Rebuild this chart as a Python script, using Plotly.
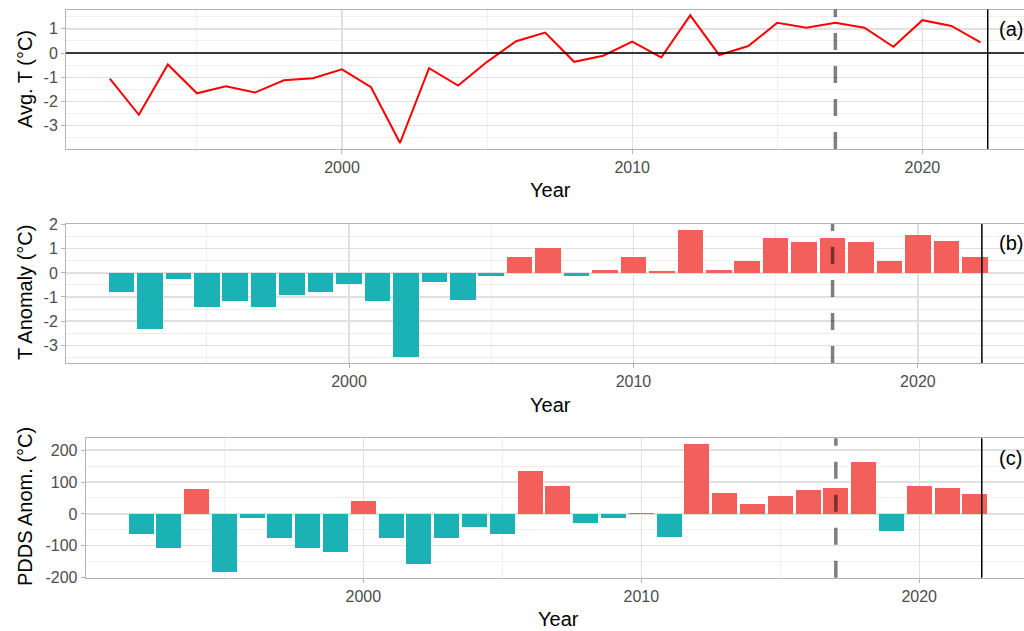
import plotly.graph_objects as go

# ---------------- data ----------------
years = list(range(1992, 2023))
avg_t = [-1.05, -2.55, -0.47, -1.66, -1.37, -1.63, -1.12, -1.04, -0.67, -1.41,
         -3.71, -0.62, -1.34, -0.36, 0.49, 0.85, -0.36, -0.11, 0.47, -0.18,
         1.56, -0.08, 0.29, 1.25, 1.05, 1.25, 1.05, 0.26, 1.36, 1.12, 0.44]
t_anom = [-0.79, -2.33, -0.25, -1.42, -1.16, -1.42, -0.93, -0.81, -0.44, -1.18,
          -3.49, -0.37, -1.11, -0.14, 0.66, 1.03, -0.14, 0.12, 0.66, 0.07,
          1.77, 0.12, 0.48, 1.45, 1.27, 1.45, 1.27, 0.48, 1.59, 1.34, 0.66]
pdds_anom = [-64, -106, 79, -181, -13, -74, -106, -120, 39, -74,
             -158, -77, -41, -64, 136, 89, -27, -14, 2, -73,
             219, 67, 32, 56, 75, 80, 163, -55, 89, 80, 61]

x_ticks = [2000, 2010, 2020]
ya_ticks = [-3, -2, -1, 0, 1]
yb_ticks = [-3, -2, -1, 0, 1, 2]
yc_ticks = [-200, -100, 0, 100, 200]
dashed_year = 2017
solid_year = 2022.25
panel_labels = ["(a)", "(b)", "(c)"]
y_titles = ["Avg. T (°C)", "T Anomaly (°C)", "PDDS Anom. (°C)"]
x_title = "Year"

RED = "#F3605B"
TEAL = "#1BB2B6"

W, H = 1024, 631


def px_x(p):
    return p / W


def px_y(p):
    return 1 - p / H


def sign_colors(vals):
    return [RED if v > 0 else TEAL for v in vals]


def minor_between(ticks, lo, hi):
    step = ticks[1] - ticks[0]
    vals = [t - step / 2 for t in ticks] + [ticks[-1] + step / 2]
    return [v for v in vals if lo <= v <= hi]


fig = go.Figure()

fig.add_trace(go.Scatter(x=years, y=avg_t, mode="lines",
                         line=dict(color="#FF0000", width=2),
                         xaxis="x", yaxis="y", showlegend=False, hoverinfo="skip"))
fig.add_trace(go.Bar(x=years, y=t_anom, width=0.9,
                     marker=dict(color=sign_colors(t_anom), line=dict(width=0)),
                     xaxis="x2", yaxis="y2", showlegend=False, hoverinfo="skip"))
fig.add_trace(go.Bar(x=years, y=pdds_anom, width=0.9,
                     marker=dict(color=sign_colors(pdds_anom), line=dict(width=0)),
                     xaxis="x3", yaxis="y3", showlegend=False, hoverinfo="skip"))

tickfont = dict(family="Liberation Sans, Arial, sans-serif", size=16, color="#4D4D4D")
titlefont = dict(family="Liberation Sans, Arial, sans-serif", size=20, color="#000000")

MAJOR_GRID = "#E0E0E0"
MINOR_GRID = "#EFEFEF"


def xaxis_cfg(dom, rng, anchor):
    return dict(domain=dom, range=rng, anchor=anchor, automargin=False,
                tickmode="array", tickvals=x_ticks, ticktext=[str(t) for t in x_ticks],
                tickfont=tickfont, ticks="outside", ticklen=4, tickcolor="#B3B3B3",
                showgrid=True, gridcolor=MAJOR_GRID, gridwidth=1.3,
                minor=dict(tickmode="array", tickvals=minor_between(x_ticks, rng[0], rng[1]),
                           showgrid=True, gridcolor=MINOR_GRID, gridwidth=1, ticks=""),
                showline=True, linecolor="#B3B3B3", linewidth=1, mirror=True,
                zeroline=False, fixedrange=True)


def yaxis_cfg(dom, rng, anchor, ticks):
    return dict(domain=dom, range=rng, anchor=anchor, automargin=False,
                tickmode="array", tickvals=ticks, ticktext=[str(t) for t in ticks],
                tickfont=tickfont, ticks="outside", ticklen=4, tickcolor="#B3B3B3",
                showgrid=True, gridcolor=MAJOR_GRID, gridwidth=1.3,
                minor=dict(tickmode="array", tickvals=minor_between(ticks, rng[0], rng[1]),
                           showgrid=True, gridcolor=MINOR_GRID, gridwidth=1, ticks=""),
                showline=True, linecolor="#B3B3B3", linewidth=1, mirror=False,
                zeroline=False, fixedrange=True)


# pixel geometry of panels
pa = dict(l=66, t=9.5, b=149)
pb = dict(l=66, t=224, b=363)
pc = dict(l=85.7, t=438.3, b=577.7)

fig.update_layout(
    width=W, height=H, autosize=False,
    margin=dict(l=0, r=0, t=0, b=0, pad=0),
    paper_bgcolor="white", plot_bgcolor="white",
    bargap=0, hovermode=False,
    xaxis=xaxis_cfg([px_x(pa["l"]), 1.0], [1990.49, 2023.50], "y"),
    yaxis=yaxis_cfg([px_y(pa["b"]), px_y(pa["t"])], [-3.96, 1.80], "x", ya_ticks),
    xaxis2=xaxis_cfg([px_x(pb["l"]), 1.0], [1990.05, 2023.73], "y2"),
    yaxis2=yaxis_cfg([px_y(pb["b"]), px_y(pb["t"])], [-3.74, 2.03], "x2", yb_ticks),
    xaxis3=xaxis_cfg([px_x(pc["l"]), 1.0], [1990.01, 2023.77], "y3"),
    yaxis3=yaxis_cfg([px_y(pc["b"]), px_y(pc["t"])], [-200, 237], "x3", yc_ticks),
)

shapes = []
# zero line in panel (a)
shapes.append(dict(type="line", xref="x domain", yref="y", x0=0, x1=1, y0=0, y1=0,
                   line=dict(color="black", width=1.5), layer="above"))
for xr, yr in [("x", "y"), ("x2", "y2"), ("x3", "y3")]:
    shapes.append(dict(type="line", xref=xr, yref=yr + " domain",
                       x0=dashed_year, x1=dashed_year, y0=0, y1=1,
                       line=dict(color="rgba(0,0,0,0.5)", width=3.5, dash="17px,16px"),
                       layer="above"))
    shapes.append(dict(type="line", xref=xr, yref=yr + " domain",
                       x0=solid_year, x1=solid_year, y0=0, y1=1,
                       line=dict(color="black", width=1.5), layer="above"))
fig.update_layout(shapes=shapes)

annotations = []
label_y = [29, 243, 458]
for lab, ly in zip(panel_labels, label_y):
    annotations.append(dict(text=lab, xref="paper", yref="paper", x=px_x(997), y=px_y(ly),
                            xanchor="left", yanchor="middle", showarrow=False, font=titlefont))
ytitle_y = [79, 293, 507]
for t, ty in zip(y_titles, ytitle_y):
    annotations.append(dict(text=t, xref="paper", yref="paper", x=px_x(25), y=px_y(ty),
                            xanchor="center", yanchor="middle", textangle=-90,
                            showarrow=False, font=titlefont))
xtitle_pos = [(550, 190), (550, 405), (558, 619)]
for xp, yp in xtitle_pos:
    annotations.append(dict(text=x_title, xref="paper", yref="paper", x=px_x(xp), y=px_y(yp),
                            xanchor="center", yanchor="middle", showarrow=False, font=titlefont))
fig.update_layout(annotations=annotations)

fig.write_html("out.html",
               config=dict(displayModeBar=False, staticPlot=True),
               post_script="document.body.style.margin='0px';document.body.style.overflow='hidden';")
